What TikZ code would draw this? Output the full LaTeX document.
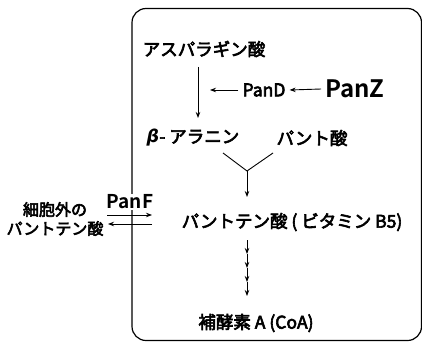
\documentclass[tikz,border=0pt]{standalone}
\usepackage{fontspec}
\setmainfont{Noto Sans CJK JP}[RawFeature={embolden=3.5}]
\newfontfamily\boldfont{Noto Sans CJK JP Bold}
\newfontfamily\dvfont{DejaVu Sans}
\usetikzlibrary{arrows.meta}
\begin{document}
\begin{tikzpicture}[x=1pt,y=-1pt,
  lbl/.style={inner sep=0pt,font=\fontsize{17.5}{19}\selectfont},
  arr/.style={line width=0.9pt,-{Stealth[length=6pt,width=4.5pt]}},
  ln/.style={line width=0.9pt}]
\useasboundingbox (0,0) rectangle (422,342);
\fill[white] (0,0) rectangle (422,342);
\draw[line width=1.2pt,rounded corners=14pt] (132,8.5) rectangle (421.5,340.5);
% nodes
\node[lbl] (asp) at (204,49) {アスパラギン酸};
\node[lbl] (pand) at (264,90) {PanD};
\node[lbl,font=\fontsize{24}{26}\selectfont\boldfont] (panz) at (355,89) {PanZ};
\node[lbl] (beta) at (193,138) {{\dvfont\bfseries\itshape β}- アラニン};
\node[lbl] (pant) at (312,138) {パント酸};
\node[lbl] (b5) at (292,222) {パントテン酸 ( ビタミン B5)};
\node[lbl] (coa) at (256,323) {補酵素 A (CoA)};
\node[lbl,font=\fontsize{16}{19}\selectfont,align=center] (ext) at (55,219) {細胞外の\\パントテン酸};
\node[lbl,fill=white,inner sep=1pt,font=\fontsize{19}{21}\selectfont\boldfont] (panf) at (130,202) {PanF};
% coordinates
\coordinate (a1) at (198,67);
\coordinate (a2) at (198,118);
\coordinate (c1) at (210,90);
\coordinate (j) at (247,171);
\coordinate (ja) at (223,153);
\coordinate (jb) at (273,153);
\coordinate (b5t) at (247,197);
\coordinate (t0) at (247,240);
\coordinate (t1) at (247,254);
\coordinate (t2) at (247,268);
\coordinate (t3) at (247,282);
\coordinate (t4) at (247,296);
\coordinate (fl) at (107,215);
\coordinate (fr) at (152,215);
\coordinate (bl) at (108,224);
\coordinate (br) at (152,224);
% connectors
\draw[arr] (a1) -- (a2);
\draw[arr] ([xshift=-4pt]pand.west) -- (c1);
\draw[arr] ([xshift=-4pt]panz.west) -- ([xshift=4pt]pand.east);
\draw[ln] (ja) -- (j) -- (jb);
\draw[arr] (j) -- (b5t);
\draw[arr] (t0) -- (t1);
\draw[arr] (t1) -- (t2);
\draw[arr] (t2) -- (t3);
\draw[arr] (t3) -- (t4);
\draw[arr] (fl) -- (fr);
\draw[arr] (br) -- (bl);
\end{tikzpicture}
\end{document}
